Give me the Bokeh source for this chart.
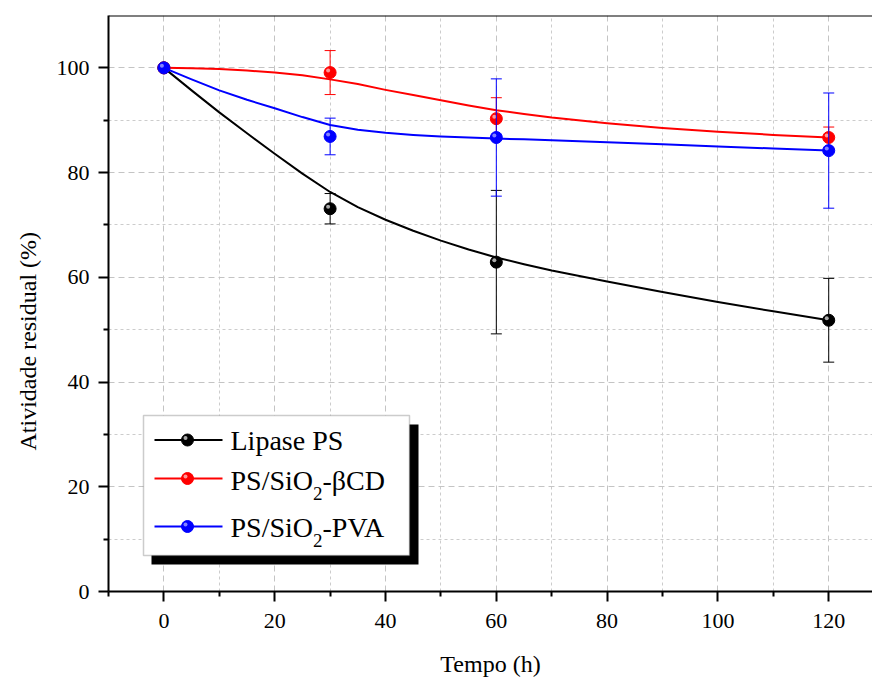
from bokeh.plotting import figure
from bokeh.models import FixedTicker, Span, Label, BoxAnnotation, Range1d, Title
from bokeh.embed import file_html
from bokeh.resources import INLINE

# ---------------- data ----------------
time_h = [0, 30, 60, 120]
lipase_ps = [100, 73.1, 62.9, 51.8]
lipase_ps_err = [0, 2.9, 13.7, 8.0]
ps_sio2_bcd = [100, 99.1, 90.3, 86.7]
ps_sio2_bcd_err = [0, 4.2, 4.0, 2.0]
ps_sio2_pva = [100, 86.9, 86.7, 84.2]
ps_sio2_pva_err = [0, 3.5, 11.2, 11.0]

# fitted curves
fit_time = [0, 5, 10, 15, 20, 25, 30, 35, 40, 45, 50, 55, 60, 65, 70, 80, 90, 100, 110, 120]
lipase_fit = [100, 95.7, 91.5, 87.5, 83.6, 79.8, 76.3, 73.4, 71.0, 68.9, 67.0, 65.3, 63.8, 62.5,
              61.3, 59.2, 57.2, 55.3, 53.5, 51.8]
bcd_fit = [100, 99.95, 99.8, 99.5, 99.1, 98.6, 97.8, 96.9, 95.8, 94.8, 93.8, 92.8, 91.9, 91.2,
           90.5, 89.4, 88.5, 87.8, 87.2, 86.7]
pva_fit = [100, 97.8, 95.7, 93.9, 92.3, 90.6, 89.1, 88.2, 87.6, 87.2, 86.9, 86.7, 86.5, 86.35,
           86.2, 85.8, 85.4, 85.0, 84.6, 84.2]

x_ticks = [0, 20, 40, 60, 80, 100, 120]
x_minor = [-10, 10, 30, 50, 70, 90, 110]
y_ticks = [0, 20, 40, 60, 80, 100]
y_minor = [10, 30, 50, 70, 90]

x_title = "Tempo (h)"
y_title = "Atividade residual (%)"

# ---------------- layout ----------------
X0, X1 = -10, 127.9
Y0, Y1 = 0, 110
FW, FH = 764, 576
FL, FT = 108, 15  # frame left / top on the page

def dx(px):
    return X0 + (px - FL) * (X1 - X0) / FW

def dy(py):
    return Y1 - (py - FT) * (Y1 - Y0) / FH

def px_dx(n):
    return n * (X1 - X0) / FW

def px_dy(n):
    return n * (Y1 - Y0) / FH

SERIF = "Liberation Serif"

p = figure(frame_width=FW, frame_height=FH,
           x_range=Range1d(X0, X1), y_range=Range1d(Y0, Y1),
           output_backend="svg", toolbar_location=None,
           min_border_left=FL, min_border_top=FT, min_border_bottom=86,
           min_border_right=0)
p.outline_line_color = None
p.background_fill_color = "white"

for ax, t, m in ((p.xaxis[0], x_ticks, x_minor), (p.yaxis[0], y_ticks, y_minor)):
    ax.ticker = FixedTicker(ticks=t, minor_ticks=m)
    ax.axis_line_width = 2
    ax.major_tick_line_width = 2
    ax.minor_tick_line_width = 2
    ax.major_tick_in = 0
    ax.minor_tick_in = 0
    ax.major_tick_out = 10
    ax.minor_tick_out = 5

p.xaxis.major_label_text_font = SERIF
p.yaxis.major_label_text_font = SERIF
p.xaxis.major_label_text_font_size = "22px"
p.yaxis.major_label_text_font_size = "22px"
p.xaxis.major_label_text_color = "black"
p.yaxis.major_label_text_color = "black"
p.xaxis.major_label_standoff = 12
p.yaxis.major_label_standoff = 9
p.xaxis.axis_label = x_title
p.xaxis.axis_label_text_font = SERIF
p.xaxis.axis_label_text_font_size = "24px"
p.xaxis.axis_label_text_font_style = "normal"
p.xaxis.axis_label_text_color = "black"
p.xaxis.axis_label_standoff = 20

for g in (p.xgrid[0], p.ygrid[0]):
    g.grid_line_color = "#c4c4c4"
    g.grid_line_dash = "6 4"
    g.grid_line_width = 1
    g.minor_grid_line_color = "#cccccc"
    g.minor_grid_line_dash = "3 3"
    g.minor_grid_line_width = 1

p.add_layout(Span(location=Y1, dimension="width", line_color="black", line_width=2))

# y title (placed as a side title so that it is not clipped by the frame)
p.add_layout(Title(text=y_title, align="left", vertical_align="top", offset=141,
                   text_font=SERIF, text_font_size="24px", text_font_style="normal",
                   text_color="black", standoff=22), "left")

# ---------------- series ----------------
series = [
    (lipase_ps, lipase_ps_err, lipase_fit, "black", "#c8c8c8"),
    (ps_sio2_bcd, ps_sio2_bcd_err, bcd_fit, "#ff0000", "#ffb0b0"),
    (ps_sio2_pva, ps_sio2_pva_err, pva_fit, "#0000ff", "#9a9aff"),
]

hx, hy = px_dx(-2), px_dy(2)

for vals, errs, fit, col, hl in series:
    bx = [t for t, e in zip(time_h, errs) if e > 0]
    up = [v + e for v, e in zip(vals, errs) if e > 0]
    lo = [v - e for v, e in zip(vals, errs) if e > 0]
    p.segment(bx, lo, bx, up, line_color=col, line_width=1)
    p.scatter(bx + bx, up + lo, marker="dash", size=11, line_color=col, line_width=1)
    p.line(fit_time, fit, line_color=col, line_width=2, line_join="round")
    p.scatter(time_h, vals, size=12, fill_color=col, line_color=col)
    p.scatter([t + hx for t in time_h], [v + hy for v in vals], size=4,
              fill_color=hl, line_alpha=0, fill_alpha=0.85)

# ---------------- legend ----------------
p.add_layout(BoxAnnotation(left=dx(151), right=dx(418), top=dy(424), bottom=dy(564),
                           fill_color="black", fill_alpha=1, line_alpha=0, level="underlay"))
p.add_layout(BoxAnnotation(left=dx(143), right=dx(409), top=dy(415), bottom=dy(555),
                           fill_color="white", fill_alpha=1, line_color="#555555",
                           line_width=1.5, level="underlay"))

rows_y = [439.5, 478, 526]
for (vals, errs, fit, col, hl), ry in zip(series, rows_y):
    p.line([dx(154), dx(222)], [dy(ry), dy(ry)], line_color=col, line_width=2)
    p.scatter([dx(187)], [dy(ry)], size=12, fill_color=col, line_color=col)
    p.scatter([dx(187) + hx], [dy(ry) + hy], size=4, fill_color=hl, line_alpha=0, fill_alpha=0.85)

FS = 28
def lab(x, y, t, size=FS):
    p.add_layout(Label(x=dx(x), y=dy(y), text=t, text_align="left", text_baseline="middle",
                       text_font=SERIF, text_font_size=f"{size}px", text_color="black"))

lab(230, 440, "Lipase PS")
w_pssio = 2.946 * FS
for ry, tail in ((480, "-βCD"), (527, "-PVA")):
    lab(230, ry, "PS/SiO")
    lab(230 + w_pssio, ry + 13, "2", 19)
    lab(230 + w_pssio + 9.5, ry, tail)

open("out.html", "w").write(file_html(p, INLINE))
